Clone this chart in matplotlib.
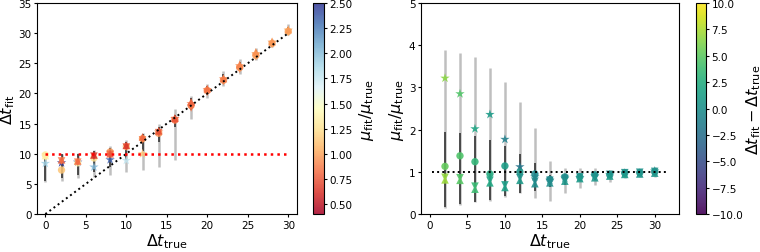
import numpy as np
import matplotlib
matplotlib.use('Agg')
import matplotlib.pyplot as plt
from matplotlib.colors import Normalize

# true delays
dt_true = np.array([0, 2, 4, 6, 8, 10, 12, 14, 16, 18, 20, 22, 24, 26, 28, 30])

# fitted delays, one array per marker type
dt_circle = np.array([9.8, 7.3, 8.5, 9.3, 10.3, 11.2, 12.5, 13.4, 15.6, 18.0, 20.5, 22.2, 24.3, 26.3, 28.3, 30.3])
dt_star = np.array([8.4, 8.5, 8.6, 7.8, 9.0, 8.9, 10.0, 13.6, 15.8, 18.3, 20.6, 22.4, 24.6, 26.6, 28.5, 30.5])
dt_up = np.array([9.7, 9.0, 8.8, 9.8, 10.0, 11.4, 12.8, 13.8, 15.9, 18.6, 20.8, 22.5, 24.8, 26.9, 28.6, 30.6])
dt_down = np.array([9.5, 8.8, 8.6, 9.6, 9.9, 11.1, 12.3, 13.5, 15.5, 17.6, 20.2, 22.0, 24.0, 26.1, 28.1, 30.1])

# fitted / true amplitude ratio
mu_circle = np.array([1.30, 1.13, 1.38, 1.24, 0.95, 1.14, 1.00, 0.95, 0.82, 0.88, 0.88, 0.93, 0.93, 0.97, 0.98, 1.00])
mu_star = np.array([1.90, 3.22, 2.85, 2.02, 2.36, 1.77, 1.12, 0.88, 0.80, 0.85, 0.86, 0.90, 0.93, 0.97, 0.97, 1.02])
mu_up = np.array([1.35, 0.81, 0.80, 0.59, 0.74, 0.63, 0.80, 0.72, 0.74, 0.78, 0.84, 0.86, 0.90, 0.94, 0.95, 0.97])
mu_down = np.array([1.30, 0.87, 0.86, 0.66, 0.80, 0.69, 0.86, 0.78, 0.80, 0.84, 0.88, 0.90, 0.94, 0.98, 0.99, 1.01])

# spread of the delay fits (wide = grey, narrow = black)
dt_wide_lo = np.array([5.3, 5.4, 5.9, 6.2, 6.5, 6.9, 7.3, 7.8, 9.0, 15.8, 19.2, 21.2, 23.3, 25.5, 27.7, 29.7])
dt_wide_hi = np.array([10.0, 10.0, 10.1, 10.7, 11.3, 12.3, 13.4, 15.0, 17.4, 19.6, 21.6, 23.8, 25.7, 27.6, 29.0, 31.5])
dt_narrow_lo = np.array([5.5, 6.0, 6.5, 7.0, 7.8, 9.0, 10.5, 12.0, 14.5, 17.2, 19.7, 21.7, 23.7, 25.9, 27.9, 30.0])
dt_narrow_hi = np.array([9.9, 9.9, 10.0, 10.5, 11.0, 12.0, 13.2, 14.5, 16.5, 19.2, 21.2, 23.2, 25.2, 27.2, 28.8, 31.0])

# spread of the amplitude ratio (no entry for dt_true = 0)
mu_wide_lo = np.array([np.nan, 0.15, 0.22, 0.28, 0.32, 0.41, 0.49, 0.37, 0.32, 0.50, 0.62, 0.70, 0.75, 0.85, 0.87, 0.88])
mu_wide_hi = np.array([np.nan, 3.89, 3.82, 3.71, 3.45, 3.14, 2.65, 2.04, 1.25, 1.10, 1.08, 1.08, 1.05, 1.07, 1.05, 1.12])
mu_narrow_lo = np.array([np.nan, 0.17, 0.24, 0.29, 0.33, 0.42, 0.50, 0.55, 0.63, 0.70, 0.78, 0.80, 0.85, 0.90, 0.92, 0.93])
mu_narrow_hi = np.array([np.nan, 1.95, 1.92, 1.84, 1.75, 1.62, 1.42, 1.20, 0.92, 0.95, 0.95, 0.98, 0.98, 1.02, 1.02, 1.06])

series = [
    ('*', 50, dt_star, mu_star),
    ('o', 28, dt_circle, mu_circle),
    ('v', 30, dt_down, mu_down),
    ('^', 30, dt_up, mu_up),
]

plt.rcParams['xtick.labelsize'] = 7.5
plt.rcParams['ytick.labelsize'] = 7.5
plt.rcParams['xtick.major.pad'] = 1.5
plt.rcParams['ytick.major.pad'] = 1.5
plt.rcParams['xtick.major.size'] = 2.5
plt.rcParams['ytick.major.size'] = 2.5
plt.rcParams['axes.linewidth'] = 0.8

fig = plt.figure(figsize=(7.6, 2.53), dpi=100)
ax1 = fig.add_axes([0.049, 0.150, 0.342, 0.834])
cax1 = fig.add_axes([0.412, 0.150, 0.0145, 0.834])
ax2 = fig.add_axes([0.554, 0.150, 0.339, 0.834])
cax2 = fig.add_axes([0.916, 0.150, 0.013, 0.834])

norm1 = Normalize(vmin=0.4, vmax=2.5)
norm2 = Normalize(vmin=-10, vmax=10)

# left: fitted delay vs true delay
ax1.vlines(dt_true, dt_wide_lo, dt_wide_hi, color='grey', lw=1.8, alpha=0.5, zorder=1)
ax1.vlines(dt_true, dt_narrow_lo, dt_narrow_hi, color='black', lw=1.1, alpha=0.8, zorder=1)
for mk, s, dt, mu in series:
    sc1 = ax1.scatter(dt_true, dt, c=mu, cmap='RdYlBu', norm=norm1, marker=mk, s=s,
                      alpha=0.85, edgecolors='none', zorder=2)
ax1.plot([0, 30], [0, 30], ':', color='black', lw=1.4, zorder=3)
ax1.plot([0, 30], [10, 10], ':', color='red', lw=1.8, zorder=3)
ax1.set_xlim(-1.0, 31.1)
ax1.set_ylim(0, 35)
ax1.set_xlabel(r'$\Delta t_{\rm true}$', fontsize=11.5, labelpad=1)
ax1.set_ylabel(r'$\Delta t_{\rm fit}$', fontsize=11.5, labelpad=1)
cb1 = fig.colorbar(sc1, cax=cax1)
cb1.set_ticks([0.5, 0.75, 1.0, 1.25, 1.5, 1.75, 2.0, 2.25, 2.5])
cb1.set_label(r'$\mu_{\rm fit}/\mu_{\rm true}$', fontsize=11.5, labelpad=3)

# right: amplitude ratio vs true delay
ax2.vlines(dt_true, mu_wide_lo, mu_wide_hi, color='grey', lw=1.8, alpha=0.5, zorder=1)
ax2.vlines(dt_true, mu_narrow_lo, mu_narrow_hi, color='black', lw=1.1, alpha=0.8, zorder=1)
keep = dt_true > 0
for mk, s, dt, mu in series:
    sc2 = ax2.scatter(dt_true[keep], mu[keep], c=(dt - dt_true)[keep], cmap='viridis', norm=norm2,
                      marker=mk, s=s, alpha=0.9, edgecolors='none', zorder=2)
ax2.plot([0.3, 31.7], [1, 1], ':', color='black', lw=1.4, zorder=3)
ax2.set_xlim(-1.2, 33.2)
ax2.set_ylim(0, 5)
ax2.set_xlabel(r'$\Delta t_{\rm true}$', fontsize=11.5, labelpad=1)
ax2.set_ylabel(r'$\mu_{\rm fit}/\mu_{\rm true}$', fontsize=11.5, labelpad=2)
cb2 = fig.colorbar(sc2, cax=cax2)
cb2.set_ticks([-10, -7.5, -5, -2.5, 0, 2.5, 5, 7.5, 10])
cb2.set_label(r'$\Delta t_{\rm fit} - \Delta t_{\rm true}$', fontsize=11.5, labelpad=1)

fig.savefig('out.png', dpi=100)
